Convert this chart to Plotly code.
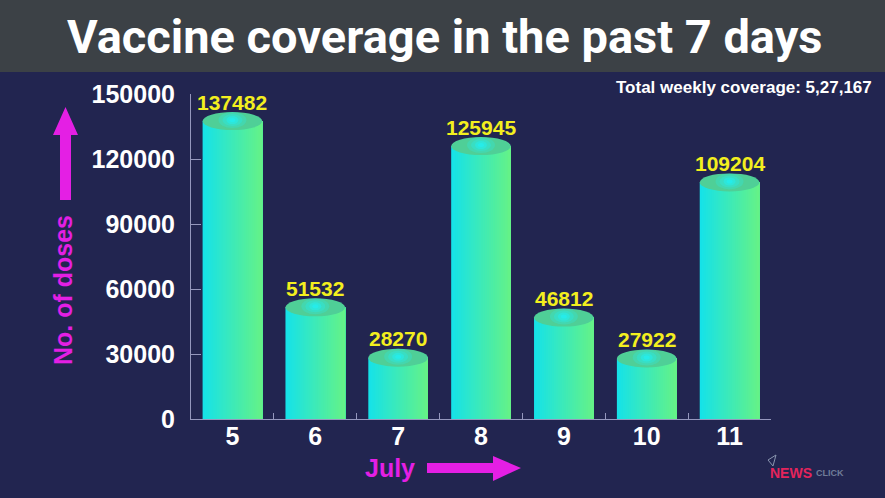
import plotly.graph_objects as go

# ---- data ----
days = ["5", "6", "7", "8", "9", "10", "11"]
doses = [137482, 51532, 28270, 125945, 46812, 27922, 109204]
y_ticks = [0, 30000, 60000, 90000, 120000, 150000]
y_tick_labels = ["0", "30000", "60000", "90000", "120000", "150000"]
title_text = "Vaccine coverage in the past 7 days"
total_text = "Total weekly coverage: 5,27,167"

W, H = 885, 498
L, R, T, B = 191, 771, 94, 419  # plot area pixel bounds

def px(x):
    return (x - L) / (R - L)

def py(y):
    return (B - y) / (B - T)

BG = "#222550"
BAR_W = 0.72
N_SLICES = 30
c0 = (22, 226, 232)
c1 = (100, 242, 136)
FONT = "Liberation Sans, Arial, sans-serif"

fig = go.Figure()
sw = BAR_W / N_SLICES
for k in range(N_SLICES):
    t = k / (N_SLICES - 1)
    col = "rgb(%d,%d,%d)" % tuple(round(a + (b - a) * t) for a, b in zip(c0, c1))
    fig.add_trace(go.Bar(
        x=days, y=doses, width=BAR_W - k * sw, offset=-BAR_W / 2 + k * sw,
        marker=dict(color=col, line=dict(width=0)),
        hoverinfo="skip", showlegend=False,
    ))

# cylinder tops + highlight
shapes = []
for i, v in enumerate(doses):
    shapes.append(dict(
        type="circle", xref="x", yref="y", x0=i - BAR_W / 2, x1=i + BAR_W / 2,
        ysizemode="pixel", yanchor=v, y0=-9, y1=9,
        fillcolor="#4fcf97", line=dict(width=0), layer="above",
    ))
    for hw, hh, op in [(14, 8, 0.25), (10, 6, 0.3), (6, 4, 0.45), (3, 2, 0.6)]:
        shapes.append(dict(
            type="circle", xref="x", yref="y",
            xsizemode="pixel", xanchor=i, x0=-hw, x1=hw,
            ysizemode="pixel", yanchor=v, y0=-hh + 1, y1=hh + 1,
            fillcolor="#22f0f4", opacity=op, line=dict(width=0), layer="above",
        ))

annotations = []
for i, v in enumerate(doses):
    annotations.append(dict(
        x=i, y=v, xref="x", yref="y", text=str(v), showarrow=False,
        yshift=19, font=dict(family=FONT, size=21, color="#f3ef1e", weight="bold"),
    ))

# title bar
shapes.insert(0, dict(type="rect", xref="paper", yref="paper",
                      x0=px(0), x1=px(W), y0=py(72), y1=py(0),
                      fillcolor="#3c4146", line=dict(width=0), layer="below"))
annotations.append(dict(
    x=px(W / 2 + 2), y=py(37), xref="paper", yref="paper", text=title_text,
    showarrow=False, xanchor="center", yanchor="middle",
    font=dict(family="Roboto, Liberation Sans, sans-serif",
              size=47, color="white", weight="bold"),
))
annotations.append(dict(
    x=px(874), y=py(88), xref="paper", yref="paper", text=total_text,
    showarrow=False, xanchor="right", yanchor="middle",
    font=dict(family=FONT, size=17, color="white", weight="bold"),
))

MAG = "#e41fe4"
annotations.append(dict(
    x=px(63), y=py(290), xref="paper", yref="paper", text="No. of doses",
    showarrow=False, textangle=-90, xanchor="center", yanchor="middle",
    font=dict(family=FONT, size=25, color=MAG, weight="bold"),
))
annotations.append(dict(
    x=px(390), y=py(468), xref="paper", yref="paper", text="July",
    showarrow=False, xanchor="center", yanchor="middle",
    font=dict(family=FONT, size=25, color=MAG, weight="bold"),
))

def path(pts):
    return "M " + " L ".join("%f %f" % (px(a), py(b)) for a, b in pts) + " Z"

up_arrow = [(60, 200), (60, 135), (53, 135), (65.5, 107), (78, 135), (71, 135), (71, 200)]
right_arrow = [(427, 463), (493, 463), (493, 456), (521, 468), (493, 481), (493, 473), (427, 473)]
for p in (up_arrow, right_arrow):
    shapes.append(dict(type="path", xref="paper", yref="paper", path=path(p),
                       fillcolor=MAG, line=dict(width=0)))

# logo
annotations.append(dict(
    x=px(768), y=py(473), xref="paper", yref="paper", text="NEWS",
    showarrow=False, xanchor="left", yanchor="middle",
    font=dict(family=FONT, size=14, color="#e4245c", weight="bold"),
))
annotations.append(dict(
    x=px(814), y=py(473), xref="paper", yref="paper", text="CLICK",
    showarrow=False, xanchor="left", yanchor="middle",
    font=dict(family=FONT, size=9, color="#6f7c98", weight="bold"),
))
shapes.append(dict(type="path", xref="paper", yref="paper",
                   path=path([(768, 460), (776, 455), (773, 466)]),
                   fillcolor="rgba(0,0,0,0)", line=dict(color="#8a96b0", width=1)))

AX = "#9597bd"
fig.update_layout(
    width=W, height=H,
    margin=dict(l=L, r=W - R, t=T, b=H - B, pad=0),
    paper_bgcolor=BG, plot_bgcolor=BG,
    barmode="overlay",
    shapes=shapes, annotations=annotations,
    showlegend=False,
    xaxis=dict(type="category", categoryorder="array", categoryarray=days,
               range=[-0.5, 6.5],
               showline=True, linecolor=AX, linewidth=1,
               ticks="inside", tickson="boundaries", ticklen=6, tickcolor=AX,
               showgrid=False, zeroline=False,
               tickfont=dict(family=FONT, size=25, color="white", weight="bold"),
               ticklabelstandoff=-5),
    yaxis=dict(range=[0, 150000], tickvals=y_ticks, ticktext=y_tick_labels,
               showline=True, linecolor=AX, linewidth=1,
               ticks="inside", ticklen=10, tickcolor=AX,
               showgrid=False, zeroline=False,
               tickfont=dict(family=FONT, size=25, color="white", weight="bold"),
               ticklabelstandoff=10),
)

fig.write_html("out.html", config={"displayModeBar": False},
               post_script="document.body.style.margin='0';document.body.style.overflow='hidden';")
